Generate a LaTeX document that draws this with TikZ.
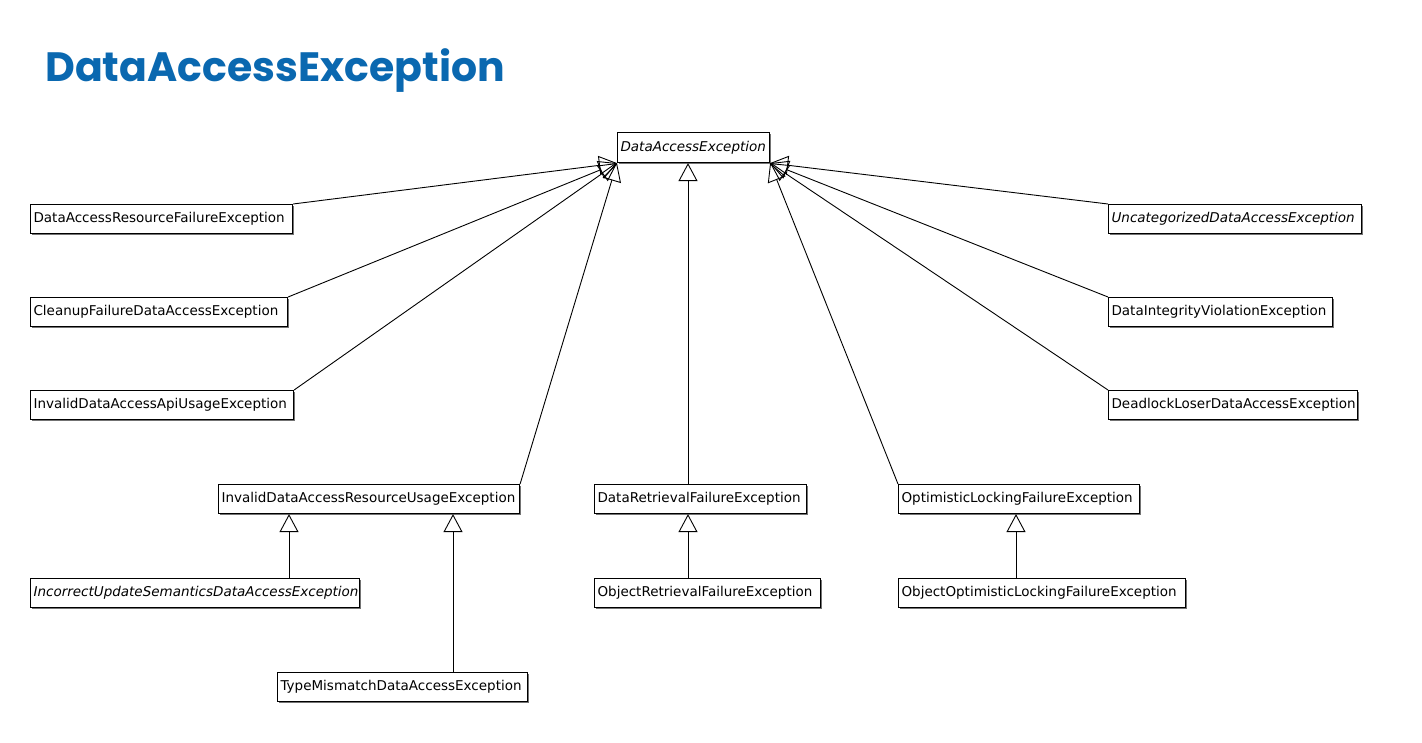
\documentclass[tikz,border=0pt]{standalone}
\usepackage{fontspec}
\usetikzlibrary{arrows.meta,shadows,calc}
\newfontfamily\umlfont{DejaVu Sans}
\newfontfamily\titlefont{Poppins}
\definecolor{titleblue}{HTML}{0A68B0}
\begin{document}
\begin{tikzpicture}[x=1pt,y=-1pt,
  box/.style={draw, line width=1.1pt, fill=white, anchor=north west,
    minimum height=29pt, inner xsep=3pt, inner ysep=0pt, text width=#1,
    align=left, font=\umlfont\fontsize{13.5}{16}\selectfont,
    drop shadow={shadow xshift=1.6pt, shadow yshift=-1.6pt, fill=black!55, opacity=1}},
  inh/.style={line width=0.9pt, -{Triangle[open, length=18pt, width=19pt, line width=0.9pt]}}]
\useasboundingbox (0,0) rectangle (1422,742);
\node[anchor=base west, inner sep=0pt, text=titleblue, font=\titlefont\bfseries\fontsize{41}{46}\selectfont] (title) at (45,81) {DataAccessException};

\node[box=146pt, minimum height=30pt] (dae) at (617,132) {\mbox{\itshape DataAccessException}};

\node[box=256pt] (darfe) at (30,204) {\mbox{DataAccessResourceFailureException}};
\node[box=251pt] (cfdae) at (30,297) {\mbox{CleanupFailureDataAccessException}};
\node[box=257pt] (idaaue) at (30,390) {\mbox{InvalidDataAccessApiUsageException}};
\node[box=295pt] (idarue) at (218,484) {\mbox{InvalidDataAccessResourceUsageException}};
\node[box=323pt] (iusdae) at (30,578) {\mbox{\itshape IncorrectUpdateSemanticsDataAccessException}};
\node[box=244pt] (tmdae) at (277,672) {\mbox{TypeMismatchDataAccessException}};
\node[box=206pt] (drfe) at (594,484) {\mbox{DataRetrievalFailureException}};
\node[box=220pt] (orfe) at (594,578) {\mbox{ObjectRetrievalFailureException}};
\node[box=235pt] (olfe) at (898,484) {\mbox{OptimisticLockingFailureException}};
\node[box=281pt] (oolfe) at (898,578) {\mbox{ObjectOptimisticLockingFailureException}};
\node[box=247pt] (ucdae) at (1108,204) {\mbox{\itshape UncategorizedDataAccessException}};
\node[box=218pt] (divee) at (1108,297) {\mbox{DataIntegrityViolationException}};
\node[box=243pt] (dldae) at (1108,390) {\mbox{DeadlockLoserDataAccessException}};

\draw[inh] (darfe.north east) -- (dae.south west);
\draw[inh] (cfdae.north east) -- (dae.south west);
\draw[inh] (idaaue.north east) -- (dae.south west);
\draw[inh] (idarue.north east) -- (dae.south west);
\draw[inh] (olfe.north west) -- (dae.south east);
\draw[inh] (ucdae.north west) -- (dae.south east);
\draw[inh] (divee.north west) -- (dae.south east);
\draw[inh] (dldae.north west) -- (dae.south east);
\draw[inh] ([xshift=94pt]drfe.north west) -- ([xshift=94pt]drfe.north west |- dae.south);
\draw[inh] ([xshift=94pt]orfe.north west) -- ([xshift=94pt]orfe.north west |- drfe.south);
\draw[inh] ([xshift=259pt]iusdae.north west) -- ([xshift=259pt]iusdae.north west |- idarue.south);
\draw[inh] ([xshift=176pt]tmdae.north west) -- ([xshift=176pt]tmdae.north west |- idarue.south);
\draw[inh] ([xshift=118pt]oolfe.north west) -- ([xshift=118pt]oolfe.north west |- olfe.south);
\end{tikzpicture}
\end{document}
